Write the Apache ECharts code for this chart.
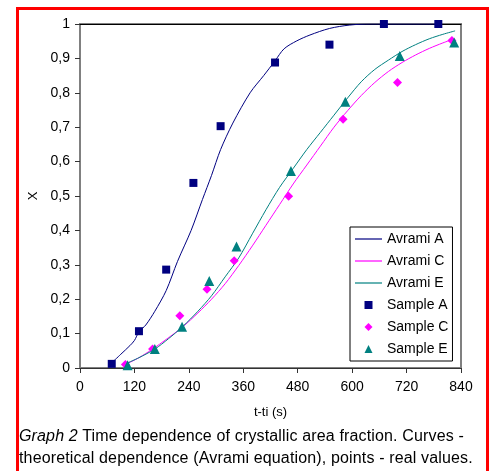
<!DOCTYPE html>
<html>
<head>
<meta charset="utf-8">
<script src="https://cdn.jsdelivr.net/npm/echarts@6/dist/echarts.min.js"></script>
<style>
	body { margin: 0; width: 494px; height: 471px; overflow: hidden; background: #fff; font-family: "Liberation Sans", Arial, sans-serif; }
	#frame { position: absolute; left: 16px; top: 7px; width: 467px; height: 480px; border: 3px solid #f00; }
	#chart { position: absolute; left: 0; top: 0; width: 494px; height: 471px; }
	#caption { position: absolute; left: 19px; top: 425px; font-size: 16px; letter-spacing: 0.15px; line-height: 22px; color: #000; white-space: nowrap; }
</style>
</head>
<body>
<div id="frame"></div>
<div id="chart"></div>
<div id="caption"><i>Graph 2</i> Time dependence of crystallic area fraction. Curves -<br>theoretical dependence (Avrami equation), points - real values.</div>
<script>
// measured points (t-ti in s, X)
const sampleA_t = [70, 130, 190, 250, 310, 430, 550, 670, 790];
const sampleA_x = [0.012, 0.107, 0.286, 0.538, 0.703, 0.888, 0.94, 1.0, 1.0];
const sampleC_t = [100, 160, 220, 280, 340, 460, 580, 700, 820];
const sampleC_x = [0.01, 0.055, 0.152, 0.229, 0.312, 0.499, 0.723, 0.83, 0.952];
const sampleE_t = [105, 165, 225, 285, 345, 465, 585, 705, 825];
const sampleE_x = [0.008, 0.055, 0.12, 0.253, 0.353, 0.573, 0.774, 0.907, 0.946];

// Avrami curves
const avramiA_t = [70, 90, 110, 120, 130, 145, 165, 190, 215, 245, 270, 290, 310, 337, 375, 405, 430, 450, 478, 507, 550, 595, 640, 700, 790];
const avramiA_x = [0.015, 0.04, 0.065, 0.08, 0.105, 0.125, 0.165, 0.225, 0.31, 0.40, 0.49, 0.56, 0.635, 0.712, 0.80, 0.85, 0.893, 0.928, 0.951, 0.968, 0.987, 0.997, 1.0, 1.0, 1.0];
const avramiC_t = [100, 130, 160, 190, 225, 260, 290, 320, 350, 380, 410, 440, 470, 500, 530, 560, 590, 620, 650, 680, 710, 740, 770, 800, 823];
const avramiC_x = [0.01, 0.03, 0.055, 0.083, 0.118, 0.16, 0.2, 0.245, 0.298, 0.355, 0.415, 0.475, 0.535, 0.59, 0.645, 0.70, 0.748, 0.792, 0.83, 0.862, 0.888, 0.91, 0.929, 0.945, 0.956];
const avramiE_t = [100, 130, 165, 195, 226, 260, 290, 320, 350, 380, 410, 440, 470, 500, 530, 560, 590, 620, 650, 680, 710, 740, 770, 800, 827];
const avramiE_x = [0.012, 0.03, 0.055, 0.085, 0.12, 0.165, 0.21, 0.265, 0.32, 0.39, 0.46, 0.525, 0.58, 0.635, 0.685, 0.735, 0.785, 0.832, 0.868, 0.895, 0.92, 0.94, 0.957, 0.97, 0.98];

const yTickLabels = ['0', '0,1', '0,2', '0,3', '0,4', '0,5', '0,6', '0,7', '0,8', '0,9', '1'];

const FONT = '"Liberation Sans", Arial, sans-serif';
const zip = (a, b) => a.map((v, i) => [v, b[i]]);

// legend icons: plain line for curves, undistorted marker shapes for samples
const ICON_LINE = 'path://M0,0H27V1.2H0Z';
const ICON_SQUARE = 'path://M0,0H10V10H0Z';
const ICON_DIAMOND = 'path://M5,0L10,5L5,10L0,5Z';
const ICON_TRIANGLE = 'path://M5,0L10,10L0,10Z';

const lineSeries = (name, t, x, color) => ({
	name, type: 'line', data: zip(t, x), symbol: 'none', smooth: 0.3,
	lineStyle: { color, width: 1 }, itemStyle: { color }, z: 2,
});
const scatterSeries = (name, t, x, color, symbol, size) => ({
	name, type: 'scatter', data: zip(t, x), symbol, symbolSize: size,
	itemStyle: { color, opacity: 1 }, z: 3,
});

const chart = echarts.init(document.getElementById('chart'));
chart.setOption({
	animation: false,
	grid: { left: 80, top: 24, right: 33, bottom: 103, show: true, borderColor: '#808080', borderWidth: 2 },
	legend: {
		orient: 'vertical', left: 350, top: 227,
		backgroundColor: '#fff', borderColor: '#000', borderWidth: 1, borderRadius: 0,
		padding: [5, 4, 5, 5], itemWidth: 27, itemHeight: 8, itemGap: 8,
		symbolKeepAspect: true,
		textStyle: { fontFamily: FONT, fontSize: 14, color: '#000' },
		data: [
			{ name: 'Avrami A', icon: ICON_LINE },
			{ name: 'Avrami C', icon: ICON_LINE },
			{ name: 'Avrami E', icon: ICON_LINE },
			{ name: 'Sample A', icon: ICON_SQUARE },
			{ name: 'Sample C', icon: ICON_DIAMOND },
			{ name: 'Sample E', icon: ICON_TRIANGLE },
		],
	},
	xAxis: [{
		type: 'value', min: 0, max: 840, interval: 120,
		name: 't-ti (s)', nameLocation: 'middle', nameGap: 38,
		nameTextStyle: { fontFamily: FONT, fontSize: 13, color: '#000' },
		axisLine: { lineStyle: { color: '#333', width: 1 } },
		axisTick: { length: 5, lineStyle: { color: '#333' } },
		axisLabel: { margin: 12, fontFamily: FONT, fontSize: 14, color: '#000', alignMinLabel: 'center', alignMaxLabel: 'center' },
		splitLine: { show: false },
	}, {
		type: 'value', position: 'top', min: 0, max: 840,
		axisLine: { show: true, lineStyle: { color: '#000', width: 1 } },
		axisTick: { show: false }, axisLabel: { show: false }, splitLine: { show: false },
	}],
	yAxis: {
		type: 'value', min: 0, max: 1, interval: 0.1,
		name: 'X', nameLocation: 'middle', nameGap: 40, nameRotate: 90,
		nameTextStyle: { fontFamily: FONT, fontSize: 13, color: '#000' },
		axisLine: { show: true, lineStyle: { color: '#808080', width: 2 } },
		axisTick: { show: true, length: 5, lineStyle: { color: '#333' } },
		axisLabel: { margin: 10, fontFamily: FONT, fontSize: 14, color: '#000', formatter: v => yTickLabels[Math.round(v * 10)] },
		splitLine: { show: false },
	},
	series: [
		lineSeries('Avrami A', avramiA_t, avramiA_x, '#000080'),
		lineSeries('Avrami C', avramiC_t, avramiC_x, '#ff00ff'),
		lineSeries('Avrami E', avramiE_t, avramiE_x, '#008080'),
		scatterSeries('Sample A', sampleA_t, sampleA_x, '#000080', 'rect', 8),
		scatterSeries('Sample C', sampleC_t, sampleC_x, '#ff00ff', 'diamond', 9),
		scatterSeries('Sample E', sampleE_t, sampleE_x, '#008080', 'triangle', 10),
	],
});
</script>
</body>
</html>
